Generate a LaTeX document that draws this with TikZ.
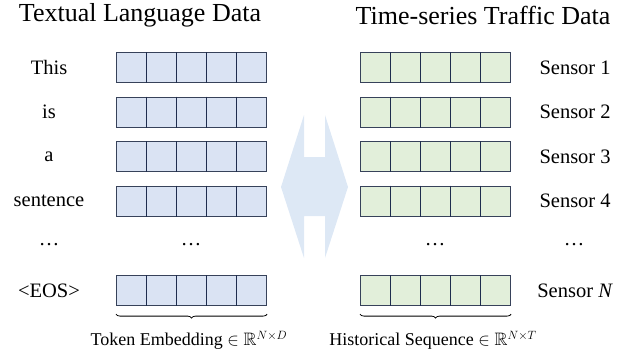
\documentclass[tikz,border=0pt]{standalone}
\usepackage{amsmath,amssymb}
\usepackage{fontspec}
\setmainfont{LiberationSerif}[Extension=.ttf, UprightFont=*-Regular, ItalicFont=*-Italic, BoldFont=*-Bold, BoldItalicFont=*-BoldItalic]
\usetikzlibrary{calc,decorations.pathreplacing}

\definecolor{tokfill}{HTML}{DAE3F3}
\definecolor{tsfill}{HTML}{E2EFDA}
\definecolor{cellline}{HTML}{1F2D4E}
\definecolor{arrowfill}{HTML}{DDE8F5}

\tikzset{
	rowbox/.style={draw=cellline!75!gray, line width=1.1pt, minimum width=150pt, minimum height=30pt, inner sep=0pt, anchor=north west},
	celldiv/.style={draw=cellline, line width=0.9pt},
	heading/.style={font=\fontsize{26}{30}\selectfont},
	rowlabel/.style={font=\fontsize{20.5}{24}\selectfont},
	caption/.style={font=\fontsize{18}{21}\selectfont},
	bracket/.style={decorate, decoration={brace, mirror, amplitude=4pt}, draw=black, line width=0.8pt}
}

\begin{document}
\begin{tikzpicture}[x=1pt,y=-1pt]
			\useasboundingbox (0,0) rectangle (635,360);
			
			% double arrow between the two sides
			\fill[arrowfill] (281,187) -- (304,115) -- (304,157) -- (325,157) -- (325,115)
				-- (348,187) -- (325,258) -- (325,216) -- (304,216) -- (304,258) -- cycle;
			
			\node[heading] (txt) at (140,15) {Textual Language Data};
			\node[heading] (tsd) at (483,15) {Time-series Traffic Data};
			
			\foreach \i/\w/\s/\y in {1/This/Sensor 1/52, 2/is/Sensor 2/96.5, 3/a/Sensor 3/141, 4/sentence/Sensor 4/185.5, N/{<EOS>}/Sensor \textit{N}/275}{
				\node[rowbox, fill=tokfill] (t\i) at (116,\y) {};
				\node[rowbox, fill=tsfill] (s\i) at (360,\y) {};
				\foreach \k in {1,...,4}{
					\draw[celldiv] ($(t\i.north west)+(30*\k,0)$) -- ($(t\i.south west)+(30*\k,0)$);
					\draw[celldiv] ($(s\i.north west)+(30*\k,0)$) -- ($(s\i.south west)+(30*\k,0)$);
				}
				\node[rowlabel] (w\i) at ($(t\i.west)+(-67,0)$) {\w};
				\node[rowlabel] (n\i) at ($(s\i.east)+(64,0)$) {\s};
			}
			
			\node[rowlabel] (wdots) at (49,245) {\ldots};
			\node[rowlabel] (tdots) at (191,245) {\ldots};
			\node[rowlabel] (sdots) at (435,245) {\ldots};
			\node[rowlabel] (ndots) at (574,245) {\ldots};
			
			\draw[bracket] ([yshift=-8pt]tN.south west) -- ([yshift=-8pt]tN.south east);
			\draw[bracket] ([yshift=-8pt]sN.south west) -- ([yshift=-8pt]sN.south east);
			\node[caption] (emb) at (189,340) {Token Embedding $\in \mathbb{R}^{N\times D}$};
			\node[caption] (his) at (433,340) {Historical Sequence $\in \mathbb{R}^{N\times T}$};
		\end{tikzpicture}
\end{document}
